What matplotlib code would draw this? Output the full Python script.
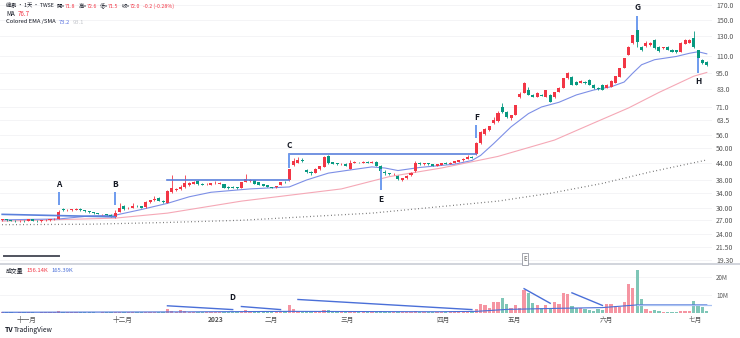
import matplotlib
matplotlib.use("Agg")
import matplotlib.pyplot as plt
from matplotlib.lines import Line2D
from matplotlib.ticker import NullLocator
import numpy as np

plt.rcParams['font.family'] = ['Noto Sans CJK TC', 'DejaVu Sans']

# daily OHLC (log price scale)
opens = [27.0, 27.2, 27.0, 26.9, 26.8, 26.9, 26.8, 27.2, 26.9, 26.8, 27.0, 27.0, 27.2,
         27.4, 29.7, 29.5, 29.4, 29.6, 29.8, 29.4, 29.2, 28.9, 28.7, 28.4, 28.5, 28.2,
         27.7, 29.0, 30.6, 29.9, 30.1, 30.6, 30.4, 30.2, 31.5, 32.0, 32.6, 31.9,
         31.3, 34.5, 35.0, 35.3, 35.9, 36.4, 36.9, 37.9, 36.9, 36.7, 36.6, 37.0, 36.9,
         36.7, 36.0, 36.0, 35.8, 35.7, 37.4, 37.8, 38.0, 37.4, 36.8, 36.4, 35.9, 35.8, 36.5, 37.5,
         38.0, 43.2, 44.2, 45.0, 41.6, 40.9, 40.6, 41.8, 42.7, 46.8, 44.3, 43.9, 43.6, 43.8,
         42.0, 44.2, 44.4, 44.0, 44.6, 44.0, 44.6, 43.0, 40.8, 40.4, 40.0, 39.4, 38.2, 38.7, 39.6, 41.0,
         44.0, 43.6, 43.9, 43.6, 43.0, 43.4, 44.0, 43.8, 44.2, 44.6, 45.0, 45.6, 46.5,
         47.5, 52.4, 56.5, 58.3, 62.0, 62.9, 70.8, 68.0, 64.8, 66.5,
         77.5, 80.3, 82.2, 79.0, 77.6, 78.9, 77.6, 78.8, 77.5, 80.8, 83.6, 91.1,
         91.9, 88.0, 87.5, 88.0, 89.6, 85.8, 83.6, 85.8, 83.6, 84.3, 87.3, 91.9, 99.2, 110.9, 122.9,
         137.3, 118.7, 119.7, 121.0, 126.1, 118.7, 117.5, 118.7, 115.7, 115.5, 113.8, 121.8, 123.0,
         128.2, 115.7, 106.2, 104.4]
highs = [27.4, 27.3, 27.1, 27.0, 27.0, 27.0, 27.3, 27.2, 27.0, 27.1, 27.2, 27.4, 27.5,
         29.4, 29.9, 29.7, 29.8, 29.9, 29.9, 29.5, 29.3, 29.0, 28.8, 28.6, 28.6, 28.4,
         29.4, 31.2, 30.8, 30.2, 31.3, 30.8, 30.5, 31.7, 32.2, 33.3, 32.8, 32.1,
         35.0, 39.8, 35.6, 36.5, 39.8, 37.4, 37.9, 38.1, 37.2, 37.0, 37.2, 37.8, 37.4,
         36.9, 36.1, 36.2, 36.0, 37.4, 40.1, 38.3, 38.2, 37.6, 36.9, 36.6, 36.0, 36.3, 37.6, 37.8,
         42.0, 45.8, 46.2, 46.0, 41.9, 41.2, 42.1, 43.0, 46.6, 47.3, 44.6, 44.1, 43.9, 44.0,
         45.3, 44.7, 44.6, 44.8, 44.8, 44.8, 44.7, 43.2, 41.6, 40.6, 40.5, 39.6, 38.8, 39.6, 40.8, 44.8,
         44.5, 44.2, 44.1, 43.8, 43.7, 44.1, 44.3, 44.4, 44.9, 45.3, 45.8, 47.3, 46.8,
         52.8, 57.9, 59.3, 60.6, 65.0, 68.5, 73.5, 68.6, 66.6, 72.6,
         80.5, 87.8, 84.5, 79.5, 80.5, 79.2, 82.5, 79.5, 81.0, 84.0, 91.3, 96.0,
         92.5, 88.5, 89.2, 88.6, 90.2, 86.5, 84.0, 86.3, 86.2, 89.3, 93.0, 99.5, 108.4, 119.5, 132.0,
         141.0, 120.0, 124.5, 123.5, 127.0, 119.5, 119.2, 119.3, 116.5, 116.0, 123.5, 127.5, 127.0,
         136.0, 116.0, 106.8, 105.0]
lows = [26.9, 26.9, 26.8, 26.7, 26.7, 26.7, 26.8, 26.8, 26.7, 26.7, 26.9, 26.9, 27.0,
        27.3, 29.3, 29.3, 29.3, 29.5, 29.3, 29.1, 28.8, 28.6, 28.4, 28.2, 28.2, 27.8,
        27.5, 28.9, 29.6, 29.8, 30.0, 30.2, 29.9, 30.1, 31.3, 31.9, 31.7, 31.4,
        31.2, 34.2, 34.8, 35.1, 35.7, 36.2, 36.7, 36.6, 36.4, 36.5, 36.5, 36.8, 36.8,
        35.5, 35.4, 35.5, 35.4, 35.6, 37.3, 37.6, 36.7, 36.5, 36.2, 35.9, 35.5, 35.6, 36.4, 37.1,
        37.9, 42.8, 44.0, 44.5, 40.6, 39.8, 40.4, 41.6, 42.5, 43.8, 43.6, 43.3, 43.4, 43.0,
        41.8, 44.0, 44.1, 43.9, 43.9, 43.9, 42.9, 41.2, 39.9, 39.8, 39.8, 38.1, 37.8, 38.5, 39.4, 40.9,
        43.4, 43.4, 43.3, 42.9, 42.8, 43.3, 43.6, 43.7, 44.0, 44.4, 44.8, 45.4, 45.8,
        47.2, 52.0, 56.0, 57.9, 61.5, 62.5, 67.5, 64.5, 63.5, 66.2,
        76.8, 80.0, 78.5, 77.3, 77.3, 77.8, 77.4, 74.0, 77.0, 80.5, 83.4, 90.5,
        85.5, 85.8, 87.0, 86.5, 85.5, 83.2, 82.5, 82.0, 83.3, 84.0, 87.0, 91.5, 98.8, 110.5, 122.0,
        118.7, 115.0, 119.0, 120.2, 117.0, 114.2, 117.0, 115.5, 113.3, 113.0, 113.5, 121.5, 122.5,
        118.0, 107.5, 103.0, 101.0]
closes = [27.2, 27.0, 26.9, 26.8, 26.9, 26.8, 27.2, 26.9, 26.8, 27.0, 27.1, 27.2, 27.3,
          29.1, 29.5, 29.5, 29.7, 29.7, 29.4, 29.2, 28.9, 28.7, 28.5, 28.5, 28.3, 28.0,
          28.8, 30.0, 29.8, 30.0, 30.6, 30.4, 30.0, 31.6, 32.1, 32.5, 31.8, 31.5,
          34.6, 35.5, 35.3, 35.9, 37.0, 37.2, 37.6, 36.8, 36.6, 36.8, 37.0, 37.1, 37.2,
          35.6, 35.5, 35.6, 35.6, 37.3, 38.3, 38.0, 36.8, 36.6, 36.3, 36.0, 35.6, 36.2, 37.4, 37.3,
          41.8, 44.9, 45.3, 44.8, 40.8, 40.4, 42.0, 42.8, 46.3, 44.0, 43.8, 43.5, 43.7, 43.1,
          43.9, 44.4, 44.3, 44.5, 44.1, 44.6, 43.0, 41.3, 40.3, 40.0, 40.2, 38.3, 38.6, 39.4, 40.6, 44.0,
          43.6, 43.9, 43.5, 43.0, 43.5, 43.9, 43.8, 44.2, 44.7, 45.1, 45.6, 46.5, 46.0,
          52.3, 57.5, 58.8, 60.2, 63.5, 67.8, 68.0, 65.0, 66.2, 72.3,
          79.5, 87.2, 78.9, 77.6, 80.1, 78.1, 82.2, 74.3, 80.8, 83.6, 91.1, 95.1,
          85.8, 86.0, 88.8, 87.0, 85.8, 83.6, 82.8, 82.2, 85.8, 89.0, 92.7, 99.2, 108.1, 118.7, 131.5,
          123.9, 115.7, 122.9, 122.5, 117.7, 114.7, 118.7, 115.9, 113.8, 113.6, 122.9, 126.1, 126.1,
          118.7, 108.1, 103.5, 101.8]
# volume in millions of shares
volumes = [0.4, 0.3, 0.3, 0.2, 0.3, 0.3, 0.5, 0.3, 0.2, 0.3, 0.4, 0.3, 0.4,
           0.9,
           0.6, 0.4, 0.4, 0.3, 0.4, 0.3, 0.3, 0.3, 0.2, 0.3, 0.3, 0.3,
           0.6,
           0.8, 0.5, 0.3, 0.6, 0.4, 0.3, 0.6, 0.6, 0.7, 0.5, 0.4,
           2.2, 1.0, 0.5, 1.5, 0.9, 0.6, 0.5, 0.7, 0.4, 0.3, 0.4, 0.5, 0.4,
           0.5, 0.4, 0.4, 0.3, 0.8, 1.5, 0.6, 0.6, 0.5, 0.4, 0.3, 0.4, 0.4, 0.6, 1.0,
           4.2, 2.0, 1.0, 0.8, 1.2, 0.7, 0.7, 0.7, 1.5, 1.5, 0.6, 0.5, 0.4, 0.5,
           0.8, 0.5, 0.4, 0.4, 0.4, 0.5, 0.6, 0.9, 0.8, 0.5, 0.4, 0.6, 0.5, 0.5, 0.6, 0.9,
           0.5, 0.4, 0.4, 0.4, 0.4, 0.4, 0.4, 0.4, 0.5, 0.5, 0.6, 0.9, 0.7,
           2.3, 5.1, 4.7, 2.6, 6.0, 6.0, 8.4, 5.1, 2.8, 4.5, 2.6, 12.5, 11.2, 5.6, 4.5, 2.5,
           4.5, 3.0, 6.0, 5.0, 11.0, 10.8, 3.9, 2.6, 3.0, 2.0, 1.5, 1.3, 2.0, 1.5, 5.0, 5.0,
           3.9, 3.6, 6.0, 16.3, 13.8, 24.0, 7.5, 2.0, 1.0, 1.5, 1.0, 0.8, 0.7, 0.6, 0.8, 1.2,
           1.0, 1.0, 6.5, 4.0, 3.5, 1.0]

# indicator lines, read at sample bars
ema_idx = [0, 13, 20, 26, 32, 38, 43, 48, 57, 66, 70, 75, 80, 85, 88, 91, 96, 104, 108,
           110, 113, 117, 121, 124, 128, 132, 136, 140, 143, 145, 147, 150, 155, 158, 160, 162]
ema_val = [27.1, 27.3, 28.0, 28.2, 29.6, 31.2, 33.0, 34.3, 35.3, 35.9, 38.1, 40.4, 41.5, 42.6,
           42.2, 41.3, 42.4, 43.6, 45.0, 47.0, 52.0, 60.0, 67.2, 71.1, 74.0, 78.8, 82.2, 84.5,
           88.0, 95.0, 102.0, 106.5, 109.5, 112.5, 114.0, 112.0]
sma_idx = [0, 26, 38, 55, 78, 89, 101, 114, 127, 136, 144, 151, 159, 162]
sma_val = [26.8, 27.5, 28.7, 31.8, 35.3, 39.2, 42.2, 46.6, 53.6, 62.0, 70.5, 80.5, 92.5, 95.5]
lma_idx = [0, 20, 38, 55, 85, 114, 126, 138, 149, 162]
lma_val = [26.0, 26.1, 26.5, 27.0, 28.7, 31.8, 34.0, 37.0, 40.8, 45.2]
vma_idx = [0, 40, 66, 100, 109, 116, 128, 138, 146, 162]
vma_val = [0.4, 0.6, 0.9, 0.7, 0.9, 2.0, 2.6, 3.0, 4.5, 4.5]

# hand-drawn annotations
hlines = [((0, 28.4), (26, 27.8)), ((38, 38.0), (66, 38.0)), ((66, 47.6), (109, 47.6))]
vol_lines = [((38, 4.0), (53, 1.9)), ((55, 3.6), (64, 1.9)), ((68, 7.5), (108, 1.9)),
             ((120, 13.5), (126, 5.4)), ((131, 11.2), (138, 4.2))]
mark_labels = ["A", "B", "C", "E", "F", "G", "H"]
mark_idx = [13, 26, 66, 87, 109, 146, 160]
mark_lo = [30.8, 30.8, 42.2, 35.0, 54.6, 137.3, 95.1]
mark_hi = [34.4, 34.4, 47.6, 41.8, 61.0, 155.0, 108.1]
mark_text = [36.6, 36.6, 51.0, 32.3, 64.9, 166.0, 88.6]

price_ticks = [19.3, 21.5, 24, 27, 30, 34, 38, 44, 50, 56, 63.5, 71, 83, 95, 110, 130, 150, 170]
price_labels = ["19.30", "21.50", "24.00", "27.00", "30.00", "34.00", "38.00", "44.00", "50.00",
                "56.0", "63.5", "71.0", "83.0", "95.0", "110.0", "130.0", "150.0", "170.0"]
month_pos = [5.7, 27.6, 49.2, 61.8, 79.3, 101.4, 117.7, 139.0, 159.3]
month_labels = ["十一月", "十二月", "2023", "二月", "三月", "四月", "五月", "六月", "七月"]

UP = "#F23645"
DOWN = "#089981"
INK = "#131722"
W, H = 740, 338


def fx(x):
    return x / W


def fy(y):
    return 1 - y / H


fig = plt.figure(figsize=(7.4, 3.38), dpi=100)
ax = fig.add_axes([0, fy(262), fx(712), 262 / H])
axv = fig.add_axes([0, fy(313), fx(712), 49 / H], sharex=ax)

x = np.arange(len(closes))
o = np.array(opens)
c = np.array(closes)
up = c >= o
cols = np.where(up, UP, DOWN)

ax.set_yscale("log")
ax.set_ylim(18.9, 177.4)
ax.set_xlim(-0.5, 163.2)
for t in price_ticks:
    ax.axhline(t, color="#f2f3f5", lw=0.6, zorder=0)

ax.vlines(x, lows, highs, colors=cols, lw=0.6, zorder=2)
bottoms = np.minimum(o, c)
heights = np.maximum(np.abs(c - o), bottoms * 0.003)
ax.bar(x, heights, bottom=bottoms, width=0.7, color=cols, zorder=3)

ax.plot(lma_idx, lma_val, color="#555555", lw=0.9, ls=(0, (0.6, 2.2)), zorder=1)
ax.plot(sma_idx, sma_val, color="#F5A8B6", lw=0.8, zorder=1)
ax.plot(ema_idx, ema_val, color="#7D8FE6", lw=0.8, zorder=1)

for (x0, y0), (x1, y1) in hlines:
    ax.plot([x0, x1], [y0, y1], color="#5B80DC", lw=1.2, zorder=4)
for lab, i, lo, hi, ty in zip(mark_labels, mark_idx, mark_lo, mark_hi, mark_text):
    ax.vlines(i, lo, hi, color="#6E9BEE", lw=1.4, zorder=4)
    ax.text(i, ty, lab, ha="center", va="center", fontsize=6, color=INK, fontweight="bold")

ax.yaxis.tick_right()
ax.set_yticks(price_ticks)
ax.set_yticklabels(price_labels)
ax.yaxis.set_minor_locator(NullLocator())
ax.tick_params(axis="y", length=0, pad=3, labelsize=5, labelcolor="#555555")
ax.tick_params(axis="x", length=0, labelbottom=False)
for s in ax.spines.values():
    s.set_visible(False)

# volume pane
vcols = np.where(up, "#F595A2", "#7FC6B7")
axv.bar(x, volumes, width=0.75, color=vcols, zorder=2)
axv.plot(vma_idx, vma_val, color="#4A6FD8", lw=0.8, zorder=3)
axv.plot([146, 163.2], [4.5, 4.5], color="#A9C2F2", lw=0.9, zorder=3)
for (x0, y0), (x1, y1) in vol_lines:
    axv.plot([x0, x1], [y0, y1], color="#4A6FD8", lw=1.0, zorder=4)
axv.text(53, 8.8, "D", ha="center", va="center", fontsize=6, color=INK, fontweight="bold")
axv.set_ylim(0, 27.2)
for t in [10, 20]:
    axv.axhline(t, color="#f2f3f5", lw=0.6, zorder=0)
axv.yaxis.tick_right()
axv.set_yticks([10, 20])
axv.set_yticklabels(["10M", "20M"])
axv.tick_params(axis="y", length=0, pad=3, labelsize=4.5, labelcolor="#555555")
axv.set_xticks(month_pos)
axv.set_xticklabels(month_labels)
axv.tick_params(axis="x", length=0, pad=2, labelsize=4.8, labelcolor="#555555")
for lbl in axv.get_xticklabels():
    if lbl.get_text() == "2023":
        lbl.set_fontweight("bold")
for s in axv.spines.values():
    s.set_visible(False)

# pane separator and little UI bits
fig.add_artist(Line2D([0, 1], [fy(263.5), fy(263.5)], color="#d1d4dc", lw=1.4))
fig.add_artist(Line2D([fx(4), fx(59)], [fy(256), fy(256)], color="#50535e", lw=1.4))
fig.text(fx(525), fy(259), "E", fontsize=4.5, color="#555555", ha="center", va="center",
         bbox=dict(boxstyle="square,pad=0.25", fc="white", ec="#9598a1", lw=0.6))

# legend rows: pieces laid out one after the other
renderer = fig.canvas.get_renderer()


def row(parts, x0, y0, size=4.4):
    xp = x0
    for s, col, gap in parts:
        t = fig.text(fx(xp), fy(y0), s, color=col, fontsize=size, va="center")
        xp += t.get_window_extent(renderer).width + gap


row([("緯創 · 1天 · TWSE", INK, 3), ("開=", INK, 0), ("71.8", UP, 3), ("高=", INK, 0),
     ("72.6", UP, 3), ("低=", INK, 0), ("71.5", UP, 3), ("收=", INK, 0), ("72.0", UP, 3),
     ("-0.2 (-0.28%)", UP, 0)], 6, 6, size=3.8)
row([("MA", INK, 3), ("76.7", UP, 0)], 6, 14)
row([("Colored EMA /SMA", INK, 3), ("73.2", "#5B73E0", 3), ("93.1", "#c4c6cc", 0)], 6, 22, size=4.2)
row([("成交量", INK, 3), ("156.14K", UP, 3), ("165.39K", "#4A6FD8", 0)], 6, 270, size=4.2)
fig.text(fx(5), fy(330), "TV", color=INK, fontsize=5, fontweight="bold", va="center")
fig.text(fx(14), fy(330), "TradingView", color=INK, fontsize=4.8, va="center")

fig.savefig("out.png", dpi=100, facecolor="white")
